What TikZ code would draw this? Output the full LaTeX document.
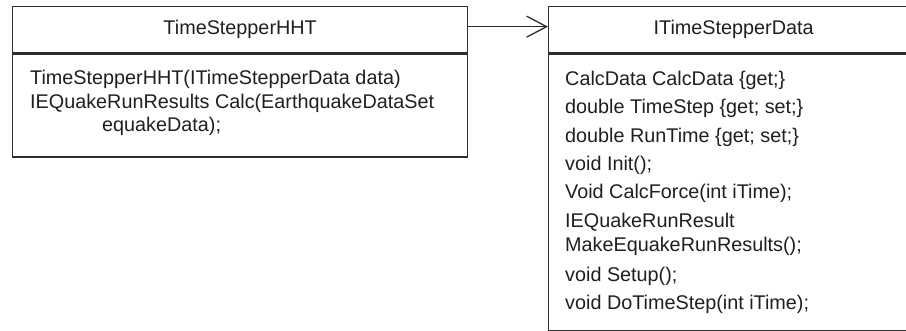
\documentclass[tikz,border=0pt]{standalone}
\usepackage{fontspec}
\setmainfont{Liberation Sans}
\usetikzlibrary{arrows.meta}

\tikzset{
  umlbox/.style={draw=black!82, line width=1.3pt, inner sep=0pt, anchor=north west, text=black!88, font=\fontsize{19.8}{24}\selectfont},
  umltext/.style={anchor=base west, inner sep=0pt, text=black!88, font=\fontsize{19.8}{24}\selectfont},
  arrowline/.style={draw=black!82, line width=1.3pt, -{Straight Barb[length=20pt, width=21pt, line width=1.3pt]}}
}

\begin{document}
\begin{tikzpicture}[x=1pt, y=-1pt]
		%%%%% START %%%%%
		\useasboundingbox (0, 0) rectangle (906, 331);
		
		% class TimeStepperHHT
		\node[umlbox, minimum width=455pt, minimum height=46pt] (hhthead) at (12, 6) {TimeStepperHHT};
		\node[umlbox, minimum width=455pt, minimum height=103pt] (hhtbody) at (hhthead.south west) {};
		
		\node[umltext] (hhtctor) at (30, 85) {TimeStepperHHT(ITimeStepperData data)};
		\node[umltext] (hhtcalc) at (30, 109) {IEQuakeRunResults Calc(EarthquakeDataSet};
		\node[umltext] (hhtcalcarg) at (102, 132) {equakeData);};
		
		% interface ITimeStepperData
		\node[umlbox, minimum width=370pt, minimum height=46pt] (datahead) at (548, 6) {ITimeStepperData};
		\node[umlbox, minimum width=370pt, minimum height=277pt] (databody) at (datahead.south west) {};
		
		\node[umltext] (datacalc) at (565, 86) {CalcData CalcData \{get;\}};
		\node[umltext] (datastep) at (565, 114) {double TimeStep \{get; set;\}};
		\node[umltext] (datarun) at (565, 143) {double RunTime \{get; set;\}};
		\node[umltext] (datainit) at (565, 171) {void Init();};
		\node[umltext] (dataforce) at (565, 199) {Void CalcForce(int iTime);};
		\node[umltext] (dataresult) at (565, 228) {IEQuakeRunResult};
		\node[umltext] (datamake) at (565, 252) {MakeEquakeRunResults();};
		\node[umltext] (datasetup) at (565, 282) {void Setup();};
		\node[umltext] (datadostep) at (565, 310) {void DoTimeStep(int iTime);};
		
		% association
		\draw[arrowline] ([yshift=3pt]hhthead.east) -- ([yshift=3pt]hhthead.east -| datahead.west);
		
		%%%%% END %%%%%
\end{tikzpicture}
\end{document}
